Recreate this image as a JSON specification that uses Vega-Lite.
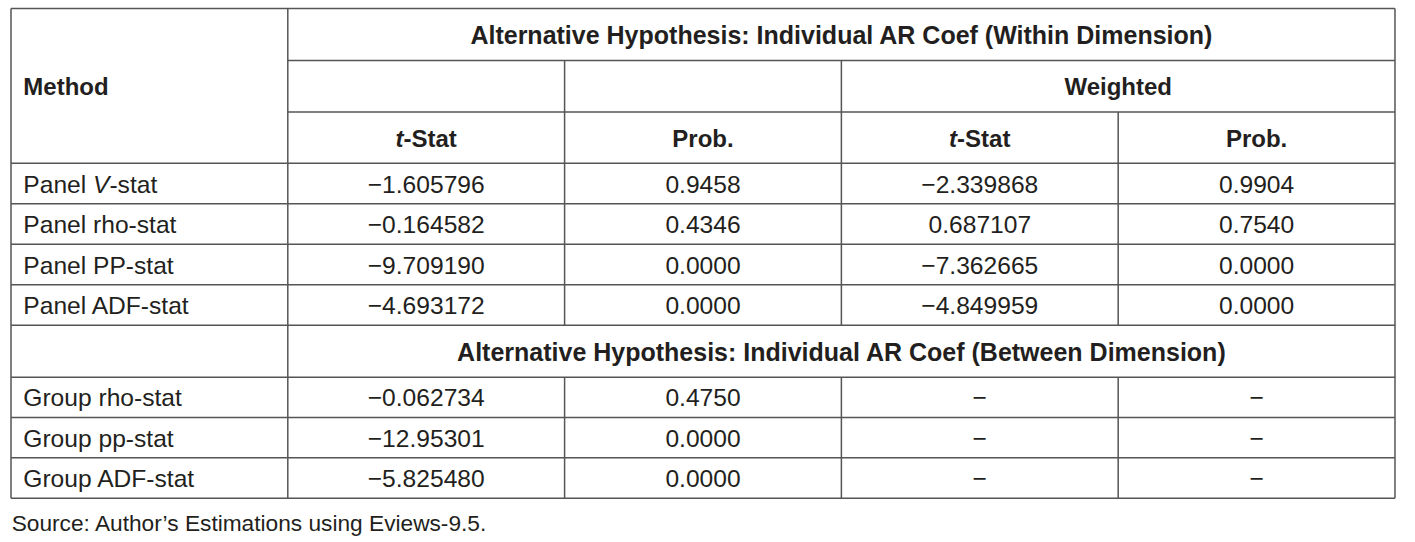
{
  "$schema": "https://vega.github.io/schema/vega-lite/v6.json",
  "autosize": {"type": "fit", "contains": "padding"},
  "width": 1415,
  "height": 542,
  "padding": 0,
  "background": "white",
  "config": {"view": {"stroke": null}},
  "datasets": {
    "lines": [
      {"x": 0, "x2": 5, "y": 0, "y2": 0},
      {"x": 1, "x2": 5, "y": 1.29, "y2": 1.29},
      {"x": 1, "x2": 5, "y": 2.57, "y2": 2.57},
      {"x": 0, "x2": 5, "y": 3.84, "y2": 3.84},
      {"x": 0, "x2": 5, "y": 4.845, "y2": 4.845},
      {"x": 0, "x2": 5, "y": 5.85, "y2": 5.85},
      {"x": 0, "x2": 5, "y": 6.855, "y2": 6.855},
      {"x": 0, "x2": 5, "y": 7.86, "y2": 7.86},
      {"x": 0, "x2": 5, "y": 9.15, "y2": 9.15},
      {"x": 0, "x2": 5, "y": 10.15, "y2": 10.15},
      {"x": 0, "x2": 5, "y": 11.15, "y2": 11.15},
      {"x": 0, "x2": 5, "y": 12.15, "y2": 12.15},
      {"x": 0, "x2": 0, "y": 0, "y2": 12.15},
      {"x": 1, "x2": 1, "y": 0, "y2": 12.15},
      {"x": 5, "x2": 5, "y": 0, "y2": 12.15},
      {"x": 2, "x2": 2, "y": 1.29, "y2": 7.86},
      {"x": 2, "x2": 2, "y": 9.15, "y2": 12.15},
      {"x": 3, "x2": 3, "y": 1.29, "y2": 7.86},
      {"x": 3, "x2": 3, "y": 9.15, "y2": 12.15},
      {"x": 4, "x2": 4, "y": 2.57, "y2": 7.86},
      {"x": 4, "x2": 4, "y": 9.15, "y2": 12.15}
    ],
    "titles": [
      {"x": 3, "y": 0.645, "t": "Alternative Hypothesis: Individual AR Coef (Within Dimension)"},
      {"x": 3, "y": 8.505, "t": "Alternative Hypothesis: Individual AR Coef (Between Dimension)"}
    ],
    "boldCenter": [
      {"x": 4, "y": 1.93, "t": "Weighted"},
      {"x": 2.5, "y": 3.205, "t": "Prob."},
      {"x": 4.5, "y": 3.205, "t": "Prob."}
    ],
    "boldLeft": [
      {"x": 0, "y": 1.92, "t": "Method"}
    ],
    "tItalic": [
      {"x": 1.5, "y": 3.205, "t": "t"},
      {"x": 3.5, "y": 3.205, "t": "t"}
    ],
    "tRest": [
      {"x": 1.5, "y": 3.205, "t": "-Stat"},
      {"x": 3.5, "y": 3.205, "t": "-Stat"}
    ],
    "labels": [
      {"x": 0, "y": 4.3425, "t": "Panel"},
      {"x": 0, "y": 5.3475, "t": "Panel rho-stat"},
      {"x": 0, "y": 6.3525, "t": "Panel PP-stat"},
      {"x": 0, "y": 7.3575, "t": "Panel ADF-stat"},
      {"x": 0, "y": 9.65, "t": "Group rho-stat"},
      {"x": 0, "y": 10.65, "t": "Group pp-stat"},
      {"x": 0, "y": 11.65, "t": "Group ADF-stat"}
    ],
    "vItalic": [
      {"x": 0, "y": 4.3425, "t": "V"}
    ],
    "vRest": [
      {"x": 0, "y": 4.3425, "t": "-stat"}
    ],
    "values": [
      {"x": 1.5, "y": 4.3425, "t": "−1.605796"},
      {"x": 2.5, "y": 4.3425, "t": "0.9458"},
      {"x": 3.5, "y": 4.3425, "t": "−2.339868"},
      {"x": 4.5, "y": 4.3425, "t": "0.9904"},
      {"x": 1.5, "y": 5.3475, "t": "−0.164582"},
      {"x": 2.5, "y": 5.3475, "t": "0.4346"},
      {"x": 3.5, "y": 5.3475, "t": "0.687107"},
      {"x": 4.5, "y": 5.3475, "t": "0.7540"},
      {"x": 1.5, "y": 6.3525, "t": "−9.709190"},
      {"x": 2.5, "y": 6.3525, "t": "0.0000"},
      {"x": 3.5, "y": 6.3525, "t": "−7.362665"},
      {"x": 4.5, "y": 6.3525, "t": "0.0000"},
      {"x": 1.5, "y": 7.3575, "t": "−4.693172"},
      {"x": 2.5, "y": 7.3575, "t": "0.0000"},
      {"x": 3.5, "y": 7.3575, "t": "−4.849959"},
      {"x": 4.5, "y": 7.3575, "t": "0.0000"},
      {"x": 1.5, "y": 9.65, "t": "−0.062734"},
      {"x": 2.5, "y": 9.65, "t": "0.4750"},
      {"x": 3.5, "y": 9.65, "t": "−"},
      {"x": 4.5, "y": 9.65, "t": "−"},
      {"x": 1.5, "y": 10.65, "t": "−12.95301"},
      {"x": 2.5, "y": 10.65, "t": "0.0000"},
      {"x": 3.5, "y": 10.65, "t": "−"},
      {"x": 4.5, "y": 10.65, "t": "−"},
      {"x": 1.5, "y": 11.65, "t": "−5.825480"},
      {"x": 2.5, "y": 11.65, "t": "0.0000"},
      {"x": 3.5, "y": 11.65, "t": "−"},
      {"x": 4.5, "y": 11.65, "t": "−"}
    ],
    "source": [
      {"x": 0, "y": 12.734, "t": "Source: Author’s Estimations using Eviews-9.5."}
    ]
  },
  "encoding": {
    "x": {"field": "x", "type": "quantitative", "axis": null, "scale": {"domain": [-0.03974, 5.0723], "nice": false, "zero": false}},
    "y": {"field": "y", "type": "quantitative", "axis": null, "scale": {"domain": [-0.2109, 13.2382], "nice": false, "zero": false, "reverse": true}}
  },
  "layer": [
    {
      "data": {"name": "lines"},
      "mark": {"type": "rule", "stroke": "#555555", "strokeWidth": 1.5},
      "encoding": {
        "x2": {"field": "x2"},
        "y2": {"field": "y2"}
      }
    },
    {
      "data": {"name": "titles"},
      "mark": {"type": "text", "font": "Liberation Sans", "fontSize": 25, "fontWeight": "bold", "align": "center", "baseline": "middle", "dy": 2, "color": "#231f20"},
      "encoding": {"text": {"field": "t"}}
    },
    {
      "data": {"name": "boldCenter"},
      "mark": {"type": "text", "font": "Liberation Sans", "fontSize": 24, "fontWeight": "bold", "align": "center", "baseline": "middle", "dy": 2, "color": "#231f20"},
      "encoding": {"text": {"field": "t"}}
    },
    {
      "data": {"name": "boldLeft"},
      "mark": {"type": "text", "font": "Liberation Sans", "fontSize": 24, "fontWeight": "bold", "align": "left", "baseline": "middle", "dx": 12.3, "dy": 2, "color": "#231f20"},
      "encoding": {"text": {"field": "t"}}
    },
    {
      "data": {"name": "tItalic"},
      "mark": {"type": "text", "font": "Liberation Sans", "fontSize": 24, "fontWeight": "bold", "fontStyle": "italic", "align": "right", "baseline": "middle", "dx": -22.7, "dy": 2, "color": "#231f20"},
      "encoding": {"text": {"field": "t"}}
    },
    {
      "data": {"name": "tRest"},
      "mark": {"type": "text", "font": "Liberation Sans", "fontSize": 24, "fontWeight": "bold", "align": "left", "baseline": "middle", "dx": -22.7, "dy": 2, "color": "#231f20"},
      "encoding": {"text": {"field": "t"}}
    },
    {
      "data": {"name": "labels"},
      "mark": {"type": "text", "font": "Liberation Sans", "fontSize": 24.6, "align": "left", "baseline": "middle", "dx": 12.3, "dy": 2, "color": "#231f20"},
      "encoding": {"text": {"field": "t"}}
    },
    {
      "data": {"name": "vItalic"},
      "mark": {"type": "text", "font": "Liberation Sans", "fontSize": 24.6, "fontStyle": "italic", "align": "left", "baseline": "middle", "dx": 82, "dy": 2, "color": "#231f20"},
      "encoding": {"text": {"field": "t"}}
    },
    {
      "data": {"name": "vRest"},
      "mark": {"type": "text", "font": "Liberation Sans", "fontSize": 24.6, "align": "left", "baseline": "middle", "dx": 98.4, "dy": 2, "color": "#231f20"},
      "encoding": {"text": {"field": "t"}}
    },
    {
      "data": {"name": "values"},
      "mark": {"type": "text", "font": "Liberation Sans", "fontSize": 24.6, "align": "center", "baseline": "middle", "dy": 2, "color": "#231f20"},
      "encoding": {"text": {"field": "t"}}
    },
    {
      "data": {"name": "source"},
      "mark": {"type": "text", "font": "Liberation Sans", "fontSize": 22.7, "align": "left", "baseline": "middle", "dx": 0.7, "dy": 2, "color": "#231f20"},
      "encoding": {"text": {"field": "t"}}
    }
  ]
}
